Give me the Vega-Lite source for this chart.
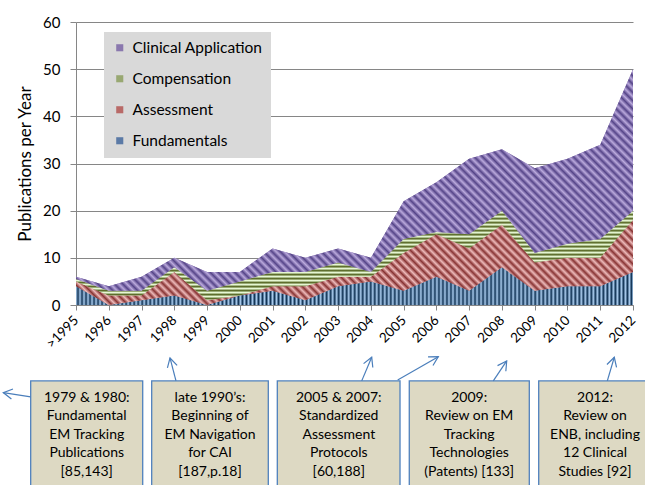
{
  "$schema": "https://vega.github.io/schema/vega-lite/v6.json",
  "width": 557,
  "height": 283,
  "autosize": {"type": "none"},
  "padding": {"left": 76, "top": 22, "right": 12, "bottom": 180},
  "background": "white",
  "config": {
    "font": "Lato",
    "view": {"stroke": null},
    "axisX": {
      "labelFlush": false, "labelBound": false, "labelOverlap": false,
      "labelAngle": -45, "labelAlign": "right", "labelBaseline": "middle",
      "labelFontSize": 13.5, "labelColor": "#000", "labelPadding": 8,
      "tickSize": 5, "tickColor": "#868686", "domainColor": "#868686", "grid": false
    },
    "axisY": {
      "labelFontSize": 15, "labelColor": "#000", "labelPadding": 10,
      "titleFontSize": 17, "titleFontWeight": "normal", "titleColor": "#000", "titlePadding": 8,
      "tickSize": 6, "tickColor": "#868686", "domainColor": "#868686",
      "grid": true, "gridColor": "#868686", "gridWidth": 1
    }
  },
  "datasets": {
    "pubs": [
      {"year": 1995, "Fundamentals": 4, "Assessment": 1, "Compensation": 0.5, "Clinical Application": 0.5},
      {"year": 1996, "Fundamentals": 0, "Assessment": 2, "Compensation": 1, "Clinical Application": 1},
      {"year": 1997, "Fundamentals": 1, "Assessment": 1, "Compensation": 1, "Clinical Application": 3},
      {"year": 1998, "Fundamentals": 2, "Assessment": 5, "Compensation": 1, "Clinical Application": 2},
      {"year": 1999, "Fundamentals": 0, "Assessment": 1, "Compensation": 2, "Clinical Application": 4},
      {"year": 2000, "Fundamentals": 2, "Assessment": 0, "Compensation": 3, "Clinical Application": 2},
      {"year": 2001, "Fundamentals": 3, "Assessment": 1, "Compensation": 3, "Clinical Application": 5},
      {"year": 2002, "Fundamentals": 1, "Assessment": 3, "Compensation": 3, "Clinical Application": 3},
      {"year": 2003, "Fundamentals": 4, "Assessment": 2, "Compensation": 3, "Clinical Application": 3},
      {"year": 2004, "Fundamentals": 5, "Assessment": 1, "Compensation": 1, "Clinical Application": 3},
      {"year": 2005, "Fundamentals": 3, "Assessment": 8, "Compensation": 3, "Clinical Application": 8},
      {"year": 2006, "Fundamentals": 6, "Assessment": 9, "Compensation": 0.5, "Clinical Application": 10.5},
      {"year": 2007, "Fundamentals": 3, "Assessment": 9, "Compensation": 3, "Clinical Application": 16},
      {"year": 2008, "Fundamentals": 8, "Assessment": 9, "Compensation": 3, "Clinical Application": 13},
      {"year": 2009, "Fundamentals": 3, "Assessment": 6, "Compensation": 2, "Clinical Application": 18},
      {"year": 2010, "Fundamentals": 4, "Assessment": 6, "Compensation": 3, "Clinical Application": 18},
      {"year": 2011, "Fundamentals": 4, "Assessment": 6, "Compensation": 4, "Clinical Application": 20},
      {"year": 2012, "Fundamentals": 7, "Assessment": 11, "Compensation": 2, "Clinical Application": 30}
    ],
    "boxes": [
      {"left": 1993.617, "right": 1997.036, "top": -16.1, "bottom": -40, "cx": 1995.327, "cy": -19.65, "text": "1979 & 1980:\nFundamental\nEM Tracking\nPublications\n[85,143]"},
      {"left": 1997.31, "right": 2000.869, "top": -16.1, "bottom": -40, "cx": 1999.09, "cy": -19.65, "text": "late 1990’s:\nBeginning of\nEM Navigation\nfor CAI\n[187,p.18]"},
      {"left": 2001.144, "right": 2004.889, "top": -16.1, "bottom": -40, "cx": 2003.02, "cy": -19.65, "text": "2005 & 2007:\nStandardized\nAssessment\nProtocols\n[60,188]"},
      {"left": 2005.172, "right": 2008.835, "top": -16.1, "bottom": -40, "cx": 2007.0, "cy": -19.65, "text": "2009:\nReview on EM\nTracking\nTechnologies\n(Patents) [133]"},
      {"left": 2009.122, "right": 2012.82, "top": -16.1, "bottom": -40, "cx": 2010.84, "cy": -19.65, "text": "2012:\nReview on\nENB, including\n12 Clinical\nStudies [92]"}
    ],
    "arrows": [
      {"tx": 1993.617, "ty": -19.48, "hx": 1992.781, "hy": -18.57, "angle": 279},
      {"tx": 1998.052, "ty": -16.09, "hx": 1997.869, "hy": -11.23, "angle": 345.4},
      {"tx": 2003.72, "ty": -16.09, "hx": 2004.025, "hy": -11.08, "angle": 22.9},
      {"tx": 2004.818, "ty": -15.88, "hx": 2006.058, "hy": -10.95, "angle": 60.2},
      {"tx": 2007.736, "ty": -16.09, "hx": 2008.145, "hy": -11.86, "angle": 33.8},
      {"tx": 2011.216, "ty": -16.09, "hx": 2011.429, "hy": -11.08, "angle": 16.5}
    ]
  },
  "layer": [
    {
      "data": {"name": "pubs"},
      "transform": [
        {"fold": ["Fundamentals", "Assessment", "Compensation", "Clinical Application"], "as": ["series", "count"]},
        {"stack": "count", "groupby": ["year"], "as": ["y0", "y1"]}
      ],
      "mark": {"type": "area", "interpolate": "linear", "opacity": 1},
      "encoding": {
        "x": {
          "field": "year", "type": "quantitative",
          "scale": {"domain": [1995, 2012], "nice": false, "zero": false},
          "axis": {
            "values": [1995, 1996, 1997, 1998, 1999, 2000, 2001, 2002, 2003, 2004, 2005, 2006, 2007, 2008, 2009, 2010, 2011, 2012],
            "tickCount": 30,
            "format": "d",
            "labelExpr": "datum.value == 1995 ? '>1995' : datum.label",
            "labelOverlap": false,
            "labelPadding": 8,
            "labelFontSize": 13.5,
            "title": null
          }
        },
        "y": {
          "field": "y1", "type": "quantitative",
          "scale": {"domain": [0, 60], "nice": false},
          "axis": {
            "values": [0, 10, 20, 30, 40, 50, 60],
            "tickCount": 10,
            "title": "Publications per Year"
          }
        },
        "y2": {"field": "y0"},
        "color": {
          "field": "series", "type": "nominal",
          "scale": {
            "domain": ["Fundamentals", "Assessment", "Compensation", "Clinical Application"],
            "range": ["#5b7aa6", "#b96a68", "#98a872", "#8a78ae"]
          },
          "legend": {
            "orient": "none", "legendX": 28, "legendY": 10, "title": null,
            "fillColor": "#d9d9d9", "padding": 8,
            "symbolType": "square", "symbolSize": 50, "symbolStrokeWidth": 0, "symbolOpacity": 1,
            "labelFontSize": 15.5, "labelColor": "#000", "labelOffset": 5, "rowPadding": 14,
            "values": ["Clinical Application", "Compensation", "Assessment", "Fundamentals"]
          }
        }
      }
    },
    {
      "data": {"name": "pubs"},
      "transform": [
        {"fold": ["Fundamentals", "Assessment", "Compensation", "Clinical Application"], "as": ["series", "count"]},
        {"stack": "count", "groupby": ["year"], "as": ["y0", "y1"]},
        {"filter": {"field": "series", "equal": "Fundamentals"}}
      ],
      "mark": {"type": "area", "interpolate": "linear", "fill": {"gradient": "linear", "x1": 0, "y1": 0, "x2": 1, "y2": 0, "stops": [
        {"offset":0,"color":"#ace"},{"offset":0.0036,"color":"#135"},{"offset":0.0072,"color":"#ace"},{"offset":0.0108,"color":"#135"},{"offset":0.0144,"color":"#ace"},{"offset":0.018,"color":"#135"},{"offset":0.0216,"color":"#ace"},{"offset":0.0252,"color":"#135"},{"offset":0.0288,"color":"#ace"},{"offset":0.0324,"color":"#135"},
        {"offset":0.036,"color":"#ace"},{"offset":0.0396,"color":"#135"},{"offset":0.0432,"color":"#ace"},{"offset":0.0468,"color":"#135"},{"offset":0.0504,"color":"#ace"},{"offset":0.054,"color":"#135"},{"offset":0.0576,"color":"#ace"},{"offset":0.0612,"color":"#135"},{"offset":0.0648,"color":"#ace"},{"offset":0.0684,"color":"#135"},
        {"offset":0.072,"color":"#ace"},{"offset":0.0756,"color":"#135"},{"offset":0.0792,"color":"#ace"},{"offset":0.0828,"color":"#135"},{"offset":0.0864,"color":"#ace"},{"offset":0.09,"color":"#135"},{"offset":0.0936,"color":"#ace"},{"offset":0.0972,"color":"#135"},{"offset":0.1008,"color":"#ace"},{"offset":0.1044,"color":"#135"},
        {"offset":0.108,"color":"#ace"},{"offset":0.1116,"color":"#135"},{"offset":0.1152,"color":"#ace"},{"offset":0.1188,"color":"#135"},{"offset":0.1224,"color":"#ace"},{"offset":0.126,"color":"#135"},{"offset":0.1296,"color":"#ace"},{"offset":0.1332,"color":"#135"},{"offset":0.1368,"color":"#ace"},{"offset":0.1404,"color":"#135"},
        {"offset":0.144,"color":"#ace"},{"offset":0.1476,"color":"#135"},{"offset":0.1512,"color":"#ace"},{"offset":0.1548,"color":"#135"},{"offset":0.1584,"color":"#ace"},{"offset":0.162,"color":"#135"},{"offset":0.1656,"color":"#ace"},{"offset":0.1692,"color":"#135"},{"offset":0.1728,"color":"#ace"},{"offset":0.1764,"color":"#135"},
        {"offset":0.18,"color":"#ace"},{"offset":0.1836,"color":"#135"},{"offset":0.1872,"color":"#ace"},{"offset":0.1908,"color":"#135"},{"offset":0.1944,"color":"#ace"},{"offset":0.198,"color":"#135"},{"offset":0.2016,"color":"#ace"},{"offset":0.2052,"color":"#135"},{"offset":0.2088,"color":"#ace"},{"offset":0.2124,"color":"#135"},
        {"offset":0.216,"color":"#ace"},{"offset":0.2196,"color":"#135"},{"offset":0.2232,"color":"#ace"},{"offset":0.2268,"color":"#135"},{"offset":0.2304,"color":"#ace"},{"offset":0.234,"color":"#135"},{"offset":0.2376,"color":"#ace"},{"offset":0.2412,"color":"#135"},{"offset":0.2448,"color":"#ace"},{"offset":0.2484,"color":"#135"},
        {"offset":0.252,"color":"#ace"},{"offset":0.2556,"color":"#135"},{"offset":0.2592,"color":"#ace"},{"offset":0.2628,"color":"#135"},{"offset":0.2664,"color":"#ace"},{"offset":0.27,"color":"#135"},{"offset":0.2736,"color":"#ace"},{"offset":0.2772,"color":"#135"},{"offset":0.2808,"color":"#ace"},{"offset":0.2844,"color":"#135"},
        {"offset":0.288,"color":"#ace"},{"offset":0.2916,"color":"#135"},{"offset":0.2952,"color":"#ace"},{"offset":0.2988,"color":"#135"},{"offset":0.3024,"color":"#ace"},{"offset":0.306,"color":"#135"},{"offset":0.3096,"color":"#ace"},{"offset":0.3132,"color":"#135"},{"offset":0.3168,"color":"#ace"},{"offset":0.3204,"color":"#135"},
        {"offset":0.324,"color":"#ace"},{"offset":0.3276,"color":"#135"},{"offset":0.3312,"color":"#ace"},{"offset":0.3348,"color":"#135"},{"offset":0.3384,"color":"#ace"},{"offset":0.342,"color":"#135"},{"offset":0.3456,"color":"#ace"},{"offset":0.3492,"color":"#135"},{"offset":0.3528,"color":"#ace"},{"offset":0.3564,"color":"#135"},
        {"offset":0.36,"color":"#ace"},{"offset":0.3636,"color":"#135"},{"offset":0.3672,"color":"#ace"},{"offset":0.3708,"color":"#135"},{"offset":0.3744,"color":"#ace"},{"offset":0.378,"color":"#135"},{"offset":0.3816,"color":"#ace"},{"offset":0.3852,"color":"#135"},{"offset":0.3888,"color":"#ace"},{"offset":0.3924,"color":"#135"},
        {"offset":0.396,"color":"#ace"},{"offset":0.3996,"color":"#135"},{"offset":0.4032,"color":"#ace"},{"offset":0.4068,"color":"#135"},{"offset":0.4104,"color":"#ace"},{"offset":0.414,"color":"#135"},{"offset":0.4176,"color":"#ace"},{"offset":0.4212,"color":"#135"},{"offset":0.4248,"color":"#ace"},{"offset":0.4284,"color":"#135"},
        {"offset":0.432,"color":"#ace"},{"offset":0.4356,"color":"#135"},{"offset":0.4392,"color":"#ace"},{"offset":0.4428,"color":"#135"},{"offset":0.4464,"color":"#ace"},{"offset":0.45,"color":"#135"},{"offset":0.4536,"color":"#ace"},{"offset":0.4572,"color":"#135"},{"offset":0.4608,"color":"#ace"},{"offset":0.4644,"color":"#135"},
        {"offset":0.468,"color":"#ace"},{"offset":0.4716,"color":"#135"},{"offset":0.4752,"color":"#ace"},{"offset":0.4788,"color":"#135"},{"offset":0.4824,"color":"#ace"},{"offset":0.486,"color":"#135"},{"offset":0.4896,"color":"#ace"},{"offset":0.4932,"color":"#135"},{"offset":0.4968,"color":"#ace"},{"offset":0.5004,"color":"#135"},
        {"offset":0.504,"color":"#ace"},{"offset":0.5076,"color":"#135"},{"offset":0.5112,"color":"#ace"},{"offset":0.5148,"color":"#135"},{"offset":0.5184,"color":"#ace"},{"offset":0.522,"color":"#135"},{"offset":0.5256,"color":"#ace"},{"offset":0.5292,"color":"#135"},{"offset":0.5328,"color":"#ace"},{"offset":0.5364,"color":"#135"},
        {"offset":0.54,"color":"#ace"},{"offset":0.5436,"color":"#135"},{"offset":0.5472,"color":"#ace"},{"offset":0.5508,"color":"#135"},{"offset":0.5544,"color":"#ace"},{"offset":0.558,"color":"#135"},{"offset":0.5616,"color":"#ace"},{"offset":0.5652,"color":"#135"},{"offset":0.5688,"color":"#ace"},{"offset":0.5724,"color":"#135"},
        {"offset":0.576,"color":"#ace"},{"offset":0.5796,"color":"#135"},{"offset":0.5832,"color":"#ace"},{"offset":0.5868,"color":"#135"},{"offset":0.5904,"color":"#ace"},{"offset":0.594,"color":"#135"},{"offset":0.5976,"color":"#ace"},{"offset":0.6012,"color":"#135"},{"offset":0.6048,"color":"#ace"},{"offset":0.6084,"color":"#135"},
        {"offset":0.612,"color":"#ace"},{"offset":0.6156,"color":"#135"},{"offset":0.6192,"color":"#ace"},{"offset":0.6228,"color":"#135"},{"offset":0.6264,"color":"#ace"},{"offset":0.63,"color":"#135"},{"offset":0.6336,"color":"#ace"},{"offset":0.6372,"color":"#135"},{"offset":0.6408,"color":"#ace"},{"offset":0.6444,"color":"#135"},
        {"offset":0.648,"color":"#ace"},{"offset":0.6516,"color":"#135"},{"offset":0.6552,"color":"#ace"},{"offset":0.6588,"color":"#135"},{"offset":0.6624,"color":"#ace"},{"offset":0.666,"color":"#135"},{"offset":0.6696,"color":"#ace"},{"offset":0.6732,"color":"#135"},{"offset":0.6768,"color":"#ace"},{"offset":0.6804,"color":"#135"},
        {"offset":0.684,"color":"#ace"},{"offset":0.6876,"color":"#135"},{"offset":0.6912,"color":"#ace"},{"offset":0.6948,"color":"#135"},{"offset":0.6984,"color":"#ace"},{"offset":0.702,"color":"#135"},{"offset":0.7056,"color":"#ace"},{"offset":0.7092,"color":"#135"},{"offset":0.7128,"color":"#ace"},{"offset":0.7164,"color":"#135"},
        {"offset":0.72,"color":"#ace"},{"offset":0.7236,"color":"#135"},{"offset":0.7272,"color":"#ace"},{"offset":0.7308,"color":"#135"},{"offset":0.7344,"color":"#ace"},{"offset":0.738,"color":"#135"},{"offset":0.7416,"color":"#ace"},{"offset":0.7452,"color":"#135"},{"offset":0.7488,"color":"#ace"},{"offset":0.7524,"color":"#135"},
        {"offset":0.756,"color":"#ace"},{"offset":0.7596,"color":"#135"},{"offset":0.7632,"color":"#ace"},{"offset":0.7668,"color":"#135"},{"offset":0.7704,"color":"#ace"},{"offset":0.774,"color":"#135"},{"offset":0.7776,"color":"#ace"},{"offset":0.7812,"color":"#135"},{"offset":0.7848,"color":"#ace"},{"offset":0.7884,"color":"#135"},
        {"offset":0.792,"color":"#ace"},{"offset":0.7956,"color":"#135"},{"offset":0.7992,"color":"#ace"},{"offset":0.8028,"color":"#135"},{"offset":0.8064,"color":"#ace"},{"offset":0.81,"color":"#135"},{"offset":0.8136,"color":"#ace"},{"offset":0.8172,"color":"#135"},{"offset":0.8208,"color":"#ace"},{"offset":0.8244,"color":"#135"},
        {"offset":0.828,"color":"#ace"},{"offset":0.8316,"color":"#135"},{"offset":0.8352,"color":"#ace"},{"offset":0.8388,"color":"#135"},{"offset":0.8424,"color":"#ace"},{"offset":0.846,"color":"#135"},{"offset":0.8496,"color":"#ace"},{"offset":0.8532,"color":"#135"},{"offset":0.8568,"color":"#ace"},{"offset":0.8604,"color":"#135"},
        {"offset":0.864,"color":"#ace"},{"offset":0.8676,"color":"#135"},{"offset":0.8712,"color":"#ace"},{"offset":0.8748,"color":"#135"},{"offset":0.8784,"color":"#ace"},{"offset":0.882,"color":"#135"},{"offset":0.8856,"color":"#ace"},{"offset":0.8892,"color":"#135"},{"offset":0.8928,"color":"#ace"},{"offset":0.8964,"color":"#135"},
        {"offset":0.9,"color":"#ace"},{"offset":0.9036,"color":"#135"},{"offset":0.9072,"color":"#ace"},{"offset":0.9108,"color":"#135"},{"offset":0.9144,"color":"#ace"},{"offset":0.918,"color":"#135"},{"offset":0.9216,"color":"#ace"},{"offset":0.9252,"color":"#135"},{"offset":0.9288,"color":"#ace"},{"offset":0.9324,"color":"#135"},
        {"offset":0.936,"color":"#ace"},{"offset":0.9396,"color":"#135"},{"offset":0.9432,"color":"#ace"},{"offset":0.9468,"color":"#135"},{"offset":0.9504,"color":"#ace"},{"offset":0.954,"color":"#135"},{"offset":0.9576,"color":"#ace"},{"offset":0.9612,"color":"#135"},{"offset":0.9648,"color":"#ace"},{"offset":0.9684,"color":"#135"},
        {"offset":0.972,"color":"#ace"},{"offset":0.9756,"color":"#135"},{"offset":0.9792,"color":"#ace"},{"offset":0.9828,"color":"#135"},{"offset":0.9864,"color":"#ace"},{"offset":0.99,"color":"#135"},{"offset":0.9936,"color":"#ace"},{"offset":0.9972,"color":"#135"},{"offset":1,"color":"#ace"}
      ]}},
      "encoding": {
        "x": {"field": "year", "type": "quantitative", "scale": {"domain": [1995, 2012], "nice": false, "zero": false}},
        "y": {"field": "y1", "type": "quantitative", "scale": {"domain": [0, 60], "nice": false}},
        "y2": {"field": "y0"}
      }
    },
    {
      "data": {"name": "pubs"},
      "transform": [
        {"fold": ["Fundamentals", "Assessment", "Compensation", "Clinical Application"], "as": ["series", "count"]},
        {"stack": "count", "groupby": ["year"], "as": ["y0", "y1"]},
        {"filter": {"field": "series", "equal": "Assessment"}}
      ],
      "mark": {"type": "area", "interpolate": "linear", "fill": {"gradient": "linear", "x1": 0, "y1": 1, "x2": 1.1263, "y2": 0.8283, "stops": [
        {"offset":0,"color":"#ebb"},{"offset":0.00625,"color":"#833"},{"offset":0.0125,"color":"#ebb"},{"offset":0.01875,"color":"#833"},{"offset":0.025,"color":"#ebb"},{"offset":0.03125,"color":"#833"},{"offset":0.0375,"color":"#ebb"},{"offset":0.04375,"color":"#833"},{"offset":0.05,"color":"#ebb"},{"offset":0.05625,"color":"#833"},{"offset":0.0625,"color":"#ebb"},{"offset":0.06875,"color":"#833"},{"offset":0.075,"color":"#ebb"},{"offset":0.08125,"color":"#833"},{"offset":0.0875,"color":"#ebb"},{"offset":0.09375,"color":"#833"},
        {"offset":0.1,"color":"#ebb"},{"offset":0.10625,"color":"#833"},{"offset":0.1125,"color":"#ebb"},{"offset":0.11875,"color":"#833"},{"offset":0.125,"color":"#ebb"},{"offset":0.13125,"color":"#833"},{"offset":0.1375,"color":"#ebb"},{"offset":0.14375,"color":"#833"},{"offset":0.15,"color":"#ebb"},{"offset":0.15625,"color":"#833"},{"offset":0.1625,"color":"#ebb"},{"offset":0.16875,"color":"#833"},{"offset":0.175,"color":"#ebb"},{"offset":0.18125,"color":"#833"},{"offset":0.1875,"color":"#ebb"},{"offset":0.19375,"color":"#833"},
        {"offset":0.2,"color":"#ebb"},{"offset":0.20625,"color":"#833"},{"offset":0.2125,"color":"#ebb"},{"offset":0.21875,"color":"#833"},{"offset":0.225,"color":"#ebb"},{"offset":0.23125,"color":"#833"},{"offset":0.2375,"color":"#ebb"},{"offset":0.24375,"color":"#833"},{"offset":0.25,"color":"#ebb"},{"offset":0.25625,"color":"#833"},{"offset":0.2625,"color":"#ebb"},{"offset":0.26875,"color":"#833"},{"offset":0.275,"color":"#ebb"},{"offset":0.28125,"color":"#833"},{"offset":0.2875,"color":"#ebb"},{"offset":0.29375,"color":"#833"},
        {"offset":0.3,"color":"#ebb"},{"offset":0.30625,"color":"#833"},{"offset":0.3125,"color":"#ebb"},{"offset":0.31875,"color":"#833"},{"offset":0.325,"color":"#ebb"},{"offset":0.33125,"color":"#833"},{"offset":0.3375,"color":"#ebb"},{"offset":0.34375,"color":"#833"},{"offset":0.35,"color":"#ebb"},{"offset":0.35625,"color":"#833"},{"offset":0.3625,"color":"#ebb"},{"offset":0.36875,"color":"#833"},{"offset":0.375,"color":"#ebb"},{"offset":0.38125,"color":"#833"},{"offset":0.3875,"color":"#ebb"},{"offset":0.39375,"color":"#833"},
        {"offset":0.4,"color":"#ebb"},{"offset":0.40625,"color":"#833"},{"offset":0.4125,"color":"#ebb"},{"offset":0.41875,"color":"#833"},{"offset":0.425,"color":"#ebb"},{"offset":0.43125,"color":"#833"},{"offset":0.4375,"color":"#ebb"},{"offset":0.44375,"color":"#833"},{"offset":0.45,"color":"#ebb"},{"offset":0.45625,"color":"#833"},{"offset":0.4625,"color":"#ebb"},{"offset":0.46875,"color":"#833"},{"offset":0.475,"color":"#ebb"},{"offset":0.48125,"color":"#833"},{"offset":0.4875,"color":"#ebb"},{"offset":0.49375,"color":"#833"},
        {"offset":0.5,"color":"#ebb"},{"offset":0.50625,"color":"#833"},{"offset":0.5125,"color":"#ebb"},{"offset":0.51875,"color":"#833"},{"offset":0.525,"color":"#ebb"},{"offset":0.53125,"color":"#833"},{"offset":0.5375,"color":"#ebb"},{"offset":0.54375,"color":"#833"},{"offset":0.55,"color":"#ebb"},{"offset":0.55625,"color":"#833"},{"offset":0.5625,"color":"#ebb"},{"offset":0.56875,"color":"#833"},{"offset":0.575,"color":"#ebb"},{"offset":0.58125,"color":"#833"},{"offset":0.5875,"color":"#ebb"},{"offset":0.59375,"color":"#833"},
        {"offset":0.6,"color":"#ebb"},{"offset":0.60625,"color":"#833"},{"offset":0.6125,"color":"#ebb"},{"offset":0.61875,"color":"#833"},{"offset":0.625,"color":"#ebb"},{"offset":0.63125,"color":"#833"},{"offset":0.6375,"color":"#ebb"},{"offset":0.64375,"color":"#833"},{"offset":0.65,"color":"#ebb"},{"offset":0.65625,"color":"#833"},{"offset":0.6625,"color":"#ebb"},{"offset":0.66875,"color":"#833"},{"offset":0.675,"color":"#ebb"},{"offset":0.68125,"color":"#833"},{"offset":0.6875,"color":"#ebb"},{"offset":0.69375,"color":"#833"},
        {"offset":0.7,"color":"#ebb"},{"offset":0.70625,"color":"#833"},{"offset":0.7125,"color":"#ebb"},{"offset":0.71875,"color":"#833"},{"offset":0.725,"color":"#ebb"},{"offset":0.73125,"color":"#833"},{"offset":0.7375,"color":"#ebb"},{"offset":0.74375,"color":"#833"},{"offset":0.75,"color":"#ebb"},{"offset":0.75625,"color":"#833"},{"offset":0.7625,"color":"#ebb"},{"offset":0.76875,"color":"#833"},{"offset":0.775,"color":"#ebb"},{"offset":0.78125,"color":"#833"},{"offset":0.7875,"color":"#ebb"},{"offset":0.79375,"color":"#833"},
        {"offset":0.8,"color":"#ebb"},{"offset":0.80625,"color":"#833"},{"offset":0.8125,"color":"#ebb"},{"offset":0.81875,"color":"#833"},{"offset":0.825,"color":"#ebb"},{"offset":0.83125,"color":"#833"},{"offset":0.8375,"color":"#ebb"},{"offset":0.84375,"color":"#833"},{"offset":0.85,"color":"#ebb"},{"offset":0.85625,"color":"#833"},{"offset":0.8625,"color":"#ebb"},{"offset":0.86875,"color":"#833"},{"offset":0.875,"color":"#ebb"},{"offset":0.88125,"color":"#833"},{"offset":0.8875,"color":"#ebb"},{"offset":0.89375,"color":"#833"},
        {"offset":0.9,"color":"#ebb"},{"offset":0.90625,"color":"#833"},{"offset":0.9125,"color":"#ebb"},{"offset":0.91875,"color":"#833"},{"offset":0.925,"color":"#ebb"},{"offset":0.93125,"color":"#833"},{"offset":0.9375,"color":"#ebb"},{"offset":0.94375,"color":"#833"},{"offset":0.95,"color":"#ebb"},{"offset":0.95625,"color":"#833"},{"offset":0.9625,"color":"#ebb"},{"offset":0.96875,"color":"#833"},{"offset":0.975,"color":"#ebb"},{"offset":0.98125,"color":"#833"},{"offset":0.9875,"color":"#ebb"},{"offset":0.99375,"color":"#833"},
        {"offset":1,"color":"#ebb"}
      ]}},
      "encoding": {
        "x": {"field": "year", "type": "quantitative", "scale": {"domain": [1995, 2012], "nice": false, "zero": false}},
        "y": {"field": "y1", "type": "quantitative", "scale": {"domain": [0, 60], "nice": false}},
        "y2": {"field": "y0"}
      }
    },
    {
      "data": {"name": "pubs"},
      "transform": [
        {"fold": ["Fundamentals", "Assessment", "Compensation", "Clinical Application"], "as": ["series", "count"]},
        {"stack": "count", "groupby": ["year"], "as": ["y0", "y1"]},
        {"filter": {"field": "series", "equal": "Compensation"}}
      ],
      "mark": {"type": "area", "interpolate": "linear", "fill": {"gradient": "linear", "x1": 0, "y1": 0, "x2": 0, "y2": 1, "stops": [
        {"offset":0,"color":"#562"},{"offset":0.0223,"color":"#efd"},{"offset":0.0446,"color":"#562"},{"offset":0.0669,"color":"#efd"},{"offset":0.0892,"color":"#562"},{"offset":0.1115,"color":"#efd"},{"offset":0.1338,"color":"#562"},{"offset":0.1561,"color":"#efd"},{"offset":0.1784,"color":"#562"},{"offset":0.2007,"color":"#efd"},
        {"offset":0.223,"color":"#562"},{"offset":0.2453,"color":"#efd"},{"offset":0.2676,"color":"#562"},{"offset":0.2899,"color":"#efd"},{"offset":0.3122,"color":"#562"},{"offset":0.3345,"color":"#efd"},{"offset":0.3568,"color":"#562"},{"offset":0.3791,"color":"#efd"},{"offset":0.4014,"color":"#562"},{"offset":0.4237,"color":"#efd"},
        {"offset":0.446,"color":"#562"},{"offset":0.4683,"color":"#efd"},{"offset":0.4906,"color":"#562"},{"offset":0.5129,"color":"#efd"},{"offset":0.5352,"color":"#562"},{"offset":0.5575,"color":"#efd"},{"offset":0.5798,"color":"#562"},{"offset":0.6021,"color":"#efd"},{"offset":0.6244,"color":"#562"},{"offset":0.6467,"color":"#efd"},
        {"offset":0.669,"color":"#562"},{"offset":0.6913,"color":"#efd"},{"offset":0.7136,"color":"#562"},{"offset":0.7359,"color":"#efd"},{"offset":0.7582,"color":"#562"},{"offset":0.7805,"color":"#efd"},{"offset":0.8028,"color":"#562"},{"offset":0.8251,"color":"#efd"},{"offset":0.8474,"color":"#562"},{"offset":0.8697,"color":"#efd"},
        {"offset":0.892,"color":"#562"},{"offset":0.9143,"color":"#efd"},{"offset":0.9366,"color":"#562"},{"offset":0.9589,"color":"#efd"},{"offset":0.9812,"color":"#562"},{"offset":1,"color":"#efd"}
      ]}},
      "encoding": {
        "x": {"field": "year", "type": "quantitative", "scale": {"domain": [1995, 2012], "nice": false, "zero": false}},
        "y": {"field": "y1", "type": "quantitative", "scale": {"domain": [0, 60], "nice": false}},
        "y2": {"field": "y0"}
      }
    },
    {
      "data": {"name": "pubs"},
      "transform": [
        {"fold": ["Fundamentals", "Assessment", "Compensation", "Clinical Application"], "as": ["series", "count"]},
        {"stack": "count", "groupby": ["year"], "as": ["y0", "y1"]},
        {"filter": {"field": "series", "equal": "Clinical Application"}}
      ],
      "mark": {"type": "area", "interpolate": "linear", "fill": {"gradient": "linear", "x1": 0, "y1": 1, "x2": 1.2068, "y2": 0.5196, "stops": [
        {"offset":0,"color":"#bad"},{"offset":0.0053,"color":"#548"},{"offset":0.0106,"color":"#bad"},{"offset":0.0159,"color":"#548"},{"offset":0.0212,"color":"#bad"},{"offset":0.0265,"color":"#548"},{"offset":0.0318,"color":"#bad"},{"offset":0.0371,"color":"#548"},{"offset":0.0424,"color":"#bad"},{"offset":0.0477,"color":"#548"},
        {"offset":0.053,"color":"#bad"},{"offset":0.0583,"color":"#548"},{"offset":0.0636,"color":"#bad"},{"offset":0.0689,"color":"#548"},{"offset":0.0742,"color":"#bad"},{"offset":0.0795,"color":"#548"},{"offset":0.0848,"color":"#bad"},{"offset":0.0901,"color":"#548"},{"offset":0.0954,"color":"#bad"},{"offset":0.1007,"color":"#548"},
        {"offset":0.106,"color":"#bad"},{"offset":0.1113,"color":"#548"},{"offset":0.1166,"color":"#bad"},{"offset":0.1219,"color":"#548"},{"offset":0.1272,"color":"#bad"},{"offset":0.1325,"color":"#548"},{"offset":0.1378,"color":"#bad"},{"offset":0.1431,"color":"#548"},{"offset":0.1484,"color":"#bad"},{"offset":0.1537,"color":"#548"},
        {"offset":0.159,"color":"#bad"},{"offset":0.1643,"color":"#548"},{"offset":0.1696,"color":"#bad"},{"offset":0.1749,"color":"#548"},{"offset":0.1802,"color":"#bad"},{"offset":0.1855,"color":"#548"},{"offset":0.1908,"color":"#bad"},{"offset":0.1961,"color":"#548"},{"offset":0.2014,"color":"#bad"},{"offset":0.2067,"color":"#548"},
        {"offset":0.212,"color":"#bad"},{"offset":0.2173,"color":"#548"},{"offset":0.2226,"color":"#bad"},{"offset":0.2279,"color":"#548"},{"offset":0.2332,"color":"#bad"},{"offset":0.2385,"color":"#548"},{"offset":0.2438,"color":"#bad"},{"offset":0.2491,"color":"#548"},{"offset":0.2544,"color":"#bad"},{"offset":0.2597,"color":"#548"},
        {"offset":0.265,"color":"#bad"},{"offset":0.2703,"color":"#548"},{"offset":0.2756,"color":"#bad"},{"offset":0.2809,"color":"#548"},{"offset":0.2862,"color":"#bad"},{"offset":0.2915,"color":"#548"},{"offset":0.2968,"color":"#bad"},{"offset":0.3021,"color":"#548"},{"offset":0.3074,"color":"#bad"},{"offset":0.3127,"color":"#548"},
        {"offset":0.318,"color":"#bad"},{"offset":0.3233,"color":"#548"},{"offset":0.3286,"color":"#bad"},{"offset":0.3339,"color":"#548"},{"offset":0.3392,"color":"#bad"},{"offset":0.3445,"color":"#548"},{"offset":0.3498,"color":"#bad"},{"offset":0.3551,"color":"#548"},{"offset":0.3604,"color":"#bad"},{"offset":0.3657,"color":"#548"},
        {"offset":0.371,"color":"#bad"},{"offset":0.3763,"color":"#548"},{"offset":0.3816,"color":"#bad"},{"offset":0.3869,"color":"#548"},{"offset":0.3922,"color":"#bad"},{"offset":0.3975,"color":"#548"},{"offset":0.4028,"color":"#bad"},{"offset":0.4081,"color":"#548"},{"offset":0.4134,"color":"#bad"},{"offset":0.4187,"color":"#548"},
        {"offset":0.424,"color":"#bad"},{"offset":0.4293,"color":"#548"},{"offset":0.4346,"color":"#bad"},{"offset":0.4399,"color":"#548"},{"offset":0.4452,"color":"#bad"},{"offset":0.4505,"color":"#548"},{"offset":0.4558,"color":"#bad"},{"offset":0.4611,"color":"#548"},{"offset":0.4664,"color":"#bad"},{"offset":0.4717,"color":"#548"},
        {"offset":0.477,"color":"#bad"},{"offset":0.4823,"color":"#548"},{"offset":0.4876,"color":"#bad"},{"offset":0.4929,"color":"#548"},{"offset":0.4982,"color":"#bad"},{"offset":0.5035,"color":"#548"},{"offset":0.5088,"color":"#bad"},{"offset":0.5141,"color":"#548"},{"offset":0.5194,"color":"#bad"},{"offset":0.5247,"color":"#548"},
        {"offset":0.53,"color":"#bad"},{"offset":0.5353,"color":"#548"},{"offset":0.5406,"color":"#bad"},{"offset":0.5459,"color":"#548"},{"offset":0.5512,"color":"#bad"},{"offset":0.5565,"color":"#548"},{"offset":0.5618,"color":"#bad"},{"offset":0.5671,"color":"#548"},{"offset":0.5724,"color":"#bad"},{"offset":0.5777,"color":"#548"},
        {"offset":0.583,"color":"#bad"},{"offset":0.5883,"color":"#548"},{"offset":0.5936,"color":"#bad"},{"offset":0.5989,"color":"#548"},{"offset":0.6042,"color":"#bad"},{"offset":0.6095,"color":"#548"},{"offset":0.6148,"color":"#bad"},{"offset":0.6201,"color":"#548"},{"offset":0.6254,"color":"#bad"},{"offset":0.6307,"color":"#548"},
        {"offset":0.636,"color":"#bad"},{"offset":0.6413,"color":"#548"},{"offset":0.6466,"color":"#bad"},{"offset":0.6519,"color":"#548"},{"offset":0.6572,"color":"#bad"},{"offset":0.6625,"color":"#548"},{"offset":0.6678,"color":"#bad"},{"offset":0.6731,"color":"#548"},{"offset":0.6784,"color":"#bad"},{"offset":0.6837,"color":"#548"},
        {"offset":0.689,"color":"#bad"},{"offset":0.6943,"color":"#548"},{"offset":0.6996,"color":"#bad"},{"offset":0.7049,"color":"#548"},{"offset":0.7102,"color":"#bad"},{"offset":0.7155,"color":"#548"},{"offset":0.7208,"color":"#bad"},{"offset":0.7261,"color":"#548"},{"offset":0.7314,"color":"#bad"},{"offset":0.7367,"color":"#548"},
        {"offset":0.742,"color":"#bad"},{"offset":0.7473,"color":"#548"},{"offset":0.7526,"color":"#bad"},{"offset":0.7579,"color":"#548"},{"offset":0.7632,"color":"#bad"},{"offset":0.7685,"color":"#548"},{"offset":0.7738,"color":"#bad"},{"offset":0.7791,"color":"#548"},{"offset":0.7844,"color":"#bad"},{"offset":0.7897,"color":"#548"},
        {"offset":0.795,"color":"#bad"},{"offset":0.8003,"color":"#548"},{"offset":0.8056,"color":"#bad"},{"offset":0.8109,"color":"#548"},{"offset":0.8162,"color":"#bad"},{"offset":0.8215,"color":"#548"},{"offset":0.8268,"color":"#bad"},{"offset":0.8321,"color":"#548"},{"offset":0.8374,"color":"#bad"},{"offset":0.8427,"color":"#548"},
        {"offset":0.848,"color":"#bad"},{"offset":0.8533,"color":"#548"},{"offset":0.8586,"color":"#bad"},{"offset":0.8639,"color":"#548"},{"offset":0.8692,"color":"#bad"},{"offset":0.8745,"color":"#548"},{"offset":0.8798,"color":"#bad"},{"offset":0.8851,"color":"#548"},{"offset":0.8904,"color":"#bad"},{"offset":0.8957,"color":"#548"},
        {"offset":0.901,"color":"#bad"},{"offset":0.9063,"color":"#548"},{"offset":0.9116,"color":"#bad"},{"offset":0.9169,"color":"#548"},{"offset":0.9222,"color":"#bad"},{"offset":0.9275,"color":"#548"},{"offset":0.9328,"color":"#bad"},{"offset":0.9381,"color":"#548"},{"offset":0.9434,"color":"#bad"},{"offset":0.9487,"color":"#548"},
        {"offset":0.954,"color":"#bad"},{"offset":0.9593,"color":"#548"},{"offset":0.9646,"color":"#bad"},{"offset":0.9699,"color":"#548"},{"offset":0.9752,"color":"#bad"},{"offset":0.9805,"color":"#548"},{"offset":0.9858,"color":"#bad"},{"offset":0.9911,"color":"#548"},{"offset":0.9964,"color":"#bad"},{"offset":1,"color":"#548"}
      ]}},
      "encoding": {
        "x": {"field": "year", "type": "quantitative", "scale": {"domain": [1995, 2012], "nice": false, "zero": false}},
        "y": {"field": "y1", "type": "quantitative", "scale": {"domain": [0, 60], "nice": false}},
        "y2": {"field": "y0"}
      }
    },
    {
      "data": {"name": "boxes"},
      "mark": {"type": "rect", "fill": "#ddd9c3", "stroke": "#4f81bd", "strokeWidth": 1.3},
      "encoding": {
        "x": {"field": "left", "type": "quantitative", "scale": {"domain": [1995, 2012], "nice": false, "zero": false}},
        "x2": {"field": "right"},
        "y": {"field": "top", "type": "quantitative", "scale": {"domain": [0, 60], "nice": false}},
        "y2": {"field": "bottom"}
      }
    },
    {
      "data": {"name": "boxes"},
      "mark": {"type": "text", "align": "center", "baseline": "middle", "lineBreak": "\n", "lineHeight": 18.5, "fontSize": 14, "color": "#000"},
      "encoding": {
        "x": {"field": "cx", "type": "quantitative", "scale": {"domain": [1995, 2012], "nice": false, "zero": false}},
        "y": {"field": "cy", "type": "quantitative", "scale": {"domain": [0, 60], "nice": false}},
        "text": {"field": "text"}
      }
    },
    {
      "data": {"name": "arrows"},
      "mark": {"type": "rule", "color": "#4a7ebb", "strokeWidth": 1.2},
      "encoding": {
        "x": {"field": "tx", "type": "quantitative", "scale": {"domain": [1995, 2012], "nice": false, "zero": false}},
        "y": {"field": "ty", "type": "quantitative", "scale": {"domain": [0, 60], "nice": false}},
        "x2": {"field": "hx"},
        "y2": {"field": "hy"}
      }
    },
    {
      "data": {"name": "arrows"},
      "mark": {"type": "point", "shape": "M-0.5,0.9L0,0L0.5,0.9", "size": 400, "filled": false, "stroke": "#4a7ebb", "strokeWidth": 1.2, "opacity": 1},
      "encoding": {
        "x": {"field": "hx", "type": "quantitative", "scale": {"domain": [1995, 2012], "nice": false, "zero": false}},
        "y": {"field": "hy", "type": "quantitative", "scale": {"domain": [0, 60], "nice": false}},
        "angle": {"field": "angle", "type": "quantitative", "scale": null}
      }
    }
  ]
}
